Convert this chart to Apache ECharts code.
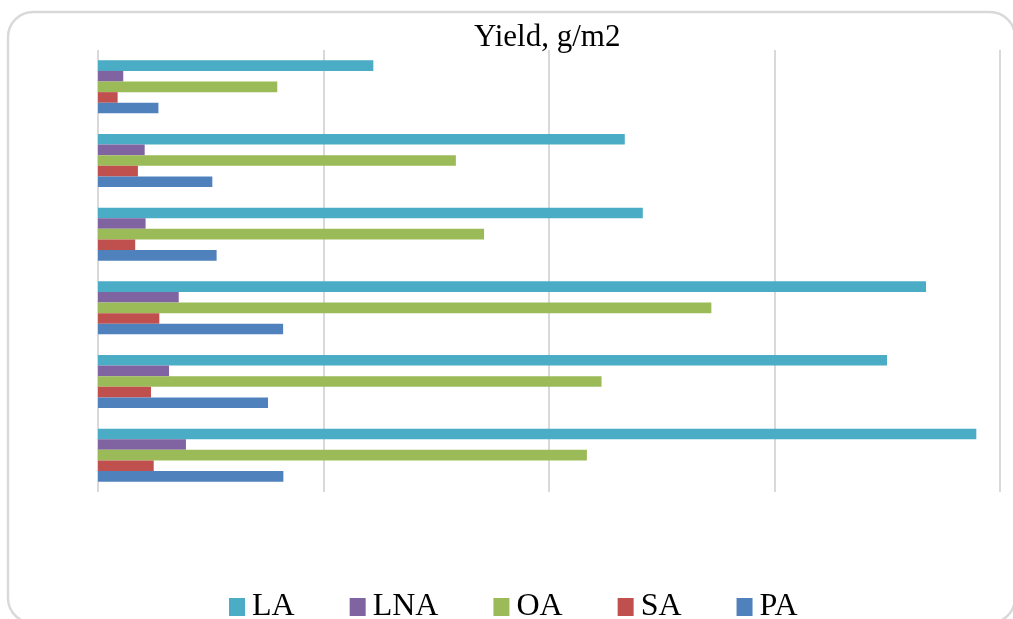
<!DOCTYPE html>
<html>
<head>
<meta charset="utf-8">
<script src="https://cdn.jsdelivr.net/npm/echarts@6/dist/echarts.min.js"></script>
<style>
  html, body { margin: 0; padding: 0; background: #fff; }
  #chart { width: 1013px; height: 619px; }
</style>
</head>
<body>
<div id="chart"></div>
<script>
// categories listed bottom -> top (no labels shown on the original)
var categories = ['1', '2', '3', '4', '5', '6'];
var seriesNames = ['LA', 'LNA', 'OA', 'SA', 'PA'];
var laData  = [389.5, 349.9, 367.2, 241.6, 233.6, 122.1];
var lnaData = [39.0, 31.5, 35.8, 21.1, 20.7, 11.2];
var oaData  = [216.8, 223.3, 272.0, 171.2, 158.7, 79.5];
var saData  = [24.7, 23.5, 27.2, 16.5, 17.7, 8.7];
var paData  = [82.2, 75.4, 82.1, 52.6, 50.7, 26.8];
var colors = ['#4BACC6', '#8064A2', '#9BBB59', '#C0504D', '#4F81BD'];

var serif = "'Liberation Serif', 'Times New Roman', serif";

var myChart = echarts.init(document.getElementById('chart'));
var allData = [laData, lnaData, oaData, saData, paData];

var option = {
  animation: false,
  color: colors,
  title: {
    text: 'Yield, g/m2',
    left: 469,
    top: 17,
    textStyle: { fontFamily: serif, fontSize: 31, fontWeight: 'normal', color: '#000' }
  },
  // rounded frame around the chart, cut off at the bottom and right
  graphic: [{
    type: 'rect',
    shape: { x: 8, y: 12, width: 1007, height: 611, r: 25 },
    style: { fill: 'none', stroke: '#d9d9d9', lineWidth: 2.5 },
    z: -1
  }],
  grid: { left: 98, right: 13, top: 50, bottom: 127 },
  legend: {
    data: seriesNames,
    left: 224,
    top: 586,
    itemWidth: 16,
    itemHeight: 18,
    itemGap: 55,
    icon: 'rect',
    textStyle: { fontFamily: serif, fontSize: 32, color: '#000', padding: [0, 0, 0, 2] }
  },
  xAxis: {
    type: 'value',
    min: 0,
    max: 400,
    interval: 100,
    axisLabel: { show: false },
    axisLine: { show: false },
    axisTick: { show: false },
    splitLine: { show: true, lineStyle: { color: '#d9d9d9', width: 2 } }
  },
  yAxis: {
    type: 'category',
    data: categories,
    axisLabel: { show: false },
    axisLine: { show: false },
    axisTick: { show: false }
  },
  series: seriesNames.map(function (name, i) {
    return {
      name: name,
      type: 'bar',
      data: allData[i],
      barGap: '0%',
      barCategoryGap: '28%'
    };
  })
};
myChart.setOption(option);
</script>
</body>
</html>
